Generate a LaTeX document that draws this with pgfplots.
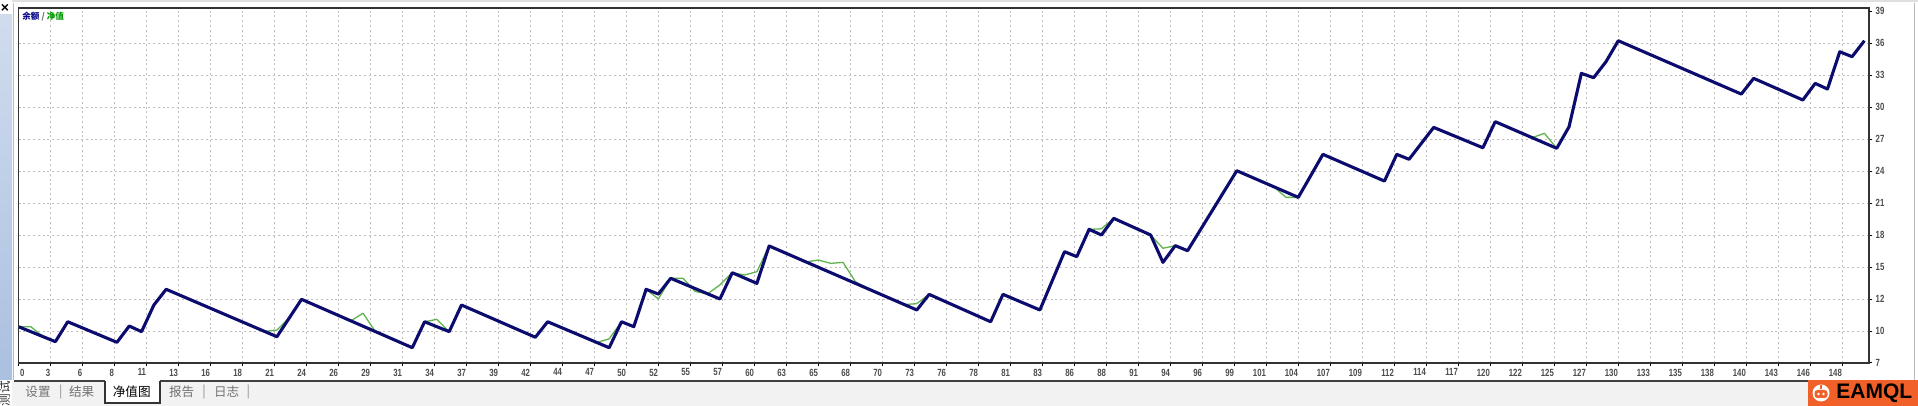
\documentclass[border=0pt]{standalone}
\usepackage{fontspec}
\setmainfont{Liberation Sans}
\newfontfamily\tickfont[FakeStretch=0.75]{Liberation Sans}
\newfontfamily\cjk{Noto Sans CJK SC}
\usepackage{pgfplots}
\pgfplotsset{compat=1.18}
\usepackage{pgfplotstable}
\definecolor{bal}{RGB}{12,12,110}
\definecolor{eq}{RGB}{95,180,80}
\definecolor{gridc}{RGB}{190,190,190}
\definecolor{eaorange}{RGB}{240,96,40}
\definecolor{stripblue}{RGB}{170,192,224}

\pgfplotstableread{
x y
0 10.30
3 8.94
4 10.75
8 8.88
9 10.36
10 9.85
11 12.27
12 13.70
21 9.39
23 12.79
32 8.39
33 10.75
35 9.85
36 12.27
42 9.34
43 10.75
48 8.39
49 10.75
50 10.30
51 13.70
52 13.27
53 14.70
57 12.82
58 15.21
60 14.24
61 17.64
73 11.82
74 13.24
79 10.75
80 13.24
83 11.82
85 17.12
86 16.67
87 19.15
88 18.64
89 20.15
92 18.64
93 16.15
94 17.67
95 17.21
99 24.48
104 22.06
106 25.97
111 23.54
112 25.97
113 25.52
115 28.42
119 26.57
120 28.94
125 26.52
126 28.48
127 33.33
128 32.94
129 34.39
130 36.30
140 31.45
141 32.88
145 30.91
146 32.42
147 31.91
148 35.30
149 34.85
150 36.30
}\balancetab

\pgfplotstableread{
x y
0 10.30
1 10.30
2 9.39
3 8.94
4 10.75
8 8.88
9 10.36
10 9.85
11 12.27
12 13.70
20 9.87
21 10.00
22 11.09
23 12.79
27 10.83
28 11.52
29 9.86
32 8.39
33 10.75
34 10.97
35 9.85
36 12.27
42 9.34
43 10.75
47 8.86
48 9.20
49 10.75
50 10.30
51 13.70
52 12.82
53 14.70
54 14.70
55 13.50
56 13.29
57 14.10
58 15.21
59 15.00
60 15.30
61 17.64
64 16.19
65 16.36
66 16.06
67 16.15
68 14.40
69 13.76
72 12.31
73 12.40
74 13.24
79 10.75
80 13.24
83 11.82
85 17.12
86 16.67
87 19.15
88 19.20
89 20.15
92 18.64
93 17.43
94 17.67
95 17.21
99 24.48
102 23.03
103 22.06
104 22.06
106 25.97
111 23.54
112 25.97
113 25.52
115 28.42
119 26.57
120 28.94
123 27.49
124 27.88
125 26.52
126 28.48
127 33.33
128 32.94
129 34.39
130 36.30
140 31.45
141 32.88
145 30.91
146 32.42
147 31.91
148 35.30
149 34.85
150 36.30
}\equitytab

\begin{document}
\begin{tikzpicture}
\useasboundingbox (0,0) rectangle (959pt,203pt);
% window chrome (pixel coordinates, origin top-left)
\begin{scope}[shift={(0pt,203pt)}, x=0.5pt, y=-0.5pt]
  \fill[white] (0,0) rectangle (1918,406);
  \fill[gray!25] (12,0) rectangle (1918,2.5);
  \fill[top color=stripblue!55, bottom color=stripblue] (0,15) rectangle (12,380);
  \node[font=\bfseries\fontsize{7}{7}\selectfont, inner sep=0pt] at (5,8) {×};
  \draw[gray!55, line width=0.5pt] (13.5,3) -- (13.5,380);
  \draw[gray!55, line width=0.5pt] (1914,3) -- (1914,380);
  \fill[gray!10] (12,381) rectangle (1918,406);
  \draw[black!75, line width=0.6pt] (14,381) -- (105,381);
  \draw[black!75, line width=0.6pt] (160,381) -- (1918,381);
  \fill[white] (105,379) rectangle (160,403);
  \draw[black!80, line width=0.6pt] (105,381) -- (105,403) -- (160,403) -- (160,381);
  \begin{scope}[every node/.style={inner sep=0pt, font=\cjk\fontsize{6.3}{6.3}\selectfont}]
    \node[text=black!55] at (38,392) {设置};
    \node[text=black!45] at (60.7,392) {|};
    \node[text=black!55] at (81.7,392) {结果};
    \node[text=black] at (131.7,392) {净值图};
    \node[text=black!55] at (181.7,392) {报告};
    \node[text=black!45] at (204,392) {|};
    \node[text=black!55] at (226.7,392) {日志};
    \node[text=black!45] at (248.3,392) {|};
    \node[text=black!80, rotate=90] at (5,394) {测试};
  \end{scope}
\end{scope}

\begin{axis}[
  at={(9.25pt,21.5pt)}, anchor=south west,
  scale only axis, width=925.4pt, height=177.35pt,
  xmin=0, xmax=150.4, ymin=7, ymax=39.25,
  axis line style={draw=black!80, line width=0.9pt},
  xtick={0,2.6,...,148.3},
  xticklabels={\makebox[0pt][l]{\hspace{1.5pt}0},3,6,8,11,13,16,18,21,24,26,29,31,34,37,39,42,44,47,50,52,55,57,60,63,65,68,70,73,76,78,81,83,86,88,91,94,96,99,101,104,107,109,112,114,117,120,122,125,127,130,133,135,138,140,143,146,148},
  ytick={7,9.909,12.818,15.727,18.636,21.545,24.455,27.364,30.273,33.182,36.091},
  yticklabels={7,10,12,15,18,21,24,27,30,33,36},
  extra y ticks={39}, extra y tick labels={39},
  extra y tick style={grid=none},
  xtick pos=bottom, ytick pos=right, yticklabel pos=right,
  tick align=outside, major tick length=1.5pt,
  major tick style={black, line width=0.5pt},
  grid=major,
  major grid style={gridc, dash pattern=on 1pt off 1.4pt, line width=0.5pt},
  xticklabel style={font=\tickfont\bfseries\fontsize{5.2}{5.2}\selectfont, text=black!70, anchor=north east, inner sep=0pt, yshift=-1.2pt},
  yticklabel style={font=\tickfont\bfseries\fontsize{5.2}{5.2}\selectfont, text=black!70, anchor=west, inner sep=0pt, xshift=1.5pt},
]
\addplot[eq, line width=0.65pt, line join=round] table {\equitytab};
\addplot[bal, line width=1.55pt, line join=round] table {\balancetab};
\end{axis}

\begin{scope}[shift={(0pt,203pt)}, x=0.5pt, y=-0.5pt]
  \node[anchor=west, inner sep=0pt, font=\cjk\bfseries\fontsize{4.3}{4.3}\selectfont] at (22,16.5)
     {\textcolor{bal!80!blue}{余额} \textcolor{black!60}{/} \textcolor{green!60!black}{净值}};
  % logo
  \fill[eaorange] (1808,380) rectangle (1918,406);
  \fill[white] (1821,393) circle (8.5);
  \fill[eaorange, rounded corners=1.5pt] (1814.5,390) rectangle (1827.5,398);
  \fill[white] (1818.5,394) circle (1.4);
  \fill[white] (1823.5,394) circle (1.4);
  \draw[eaorange, line width=0.6pt] (1821,385.5) -- (1821,389.5);
  \node[anchor=west, inner sep=0pt, font=\bfseries\fontsize{10.5}{10.5}\selectfont] at (1836,393.5) {\textcolor{black}{EAMQL}};
\end{scope}
\end{tikzpicture}
\end{document}
